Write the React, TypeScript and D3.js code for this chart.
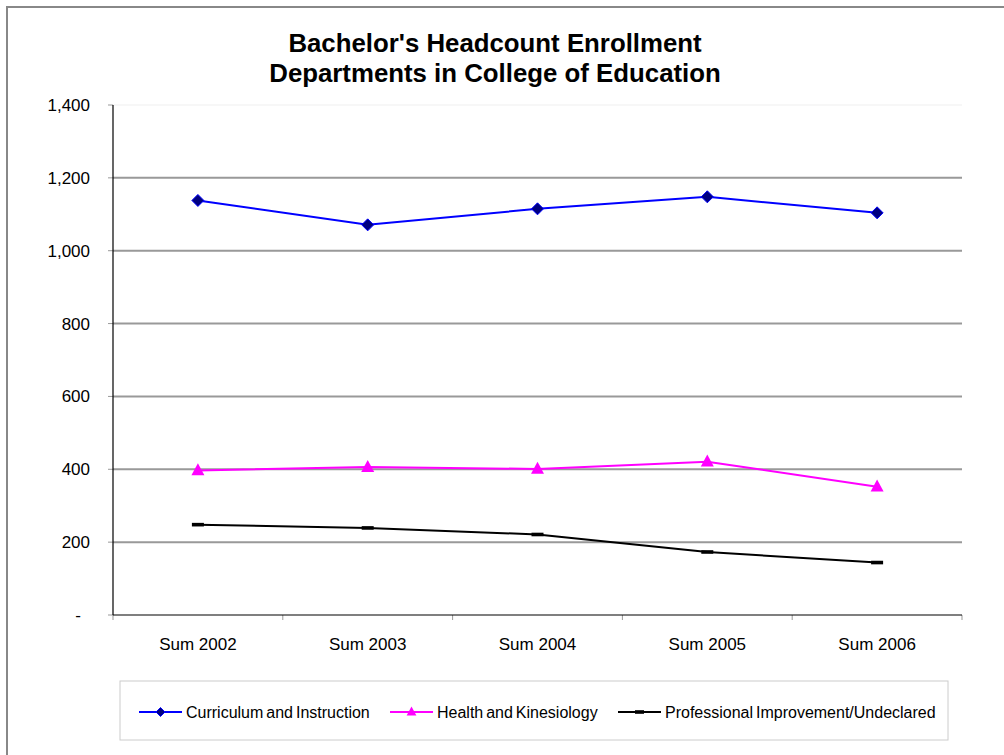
import React from "react";
import * as d3 from "d3";

const categories = ["Sum 2002", "Sum 2003", "Sum 2004", "Sum 2005", "Sum 2006"];
const curriculum = [1138, 1071, 1115, 1148, 1104];
const health = [397, 406, 401, 421, 352];
const professional = [248, 239, 221, 173, 144];
const yTicks = [0, 200, 400, 600, 800, 1000, 1200, 1400];
const seriesNames = ["Curriculum and Instruction", "Health and Kinesiology", "Professional Improvement/Undeclared"];

const W = 1004, H = 755;
const L = 113, R = 962, T = 105, B = 615;
const FONT = "Arial, 'Liberation Sans', sans-serif";

function Marker({ kind, x, y, s = 1 }: { kind: string; x: number; y: number; s?: number }) {
  if (kind === "diamond") {
    const r = 6 * s;
    return <path d={`M${x},${y - r}L${x + r},${y}L${x},${y + r}L${x - r},${y}Z`} fill="#000080" stroke="#0000ff" strokeWidth={1} />;
  }
  if (kind === "triangle") {
    const w = 6.5 * s, h = 12 * s;
    return <path d={`M${x},${y - h * 0.6}L${x + w},${y + h * 0.4}L${x - w},${y + h * 0.4}Z`} fill="#ff00ff" />;
  }
  return <rect x={x - 6 * s} y={y - 1.8} width={12 * s} height={3.6} fill="#000" />;
}

export default function App() {
  const x = d3.scaleBand<string>().domain(categories).range([L, R]);
  const y = d3.scaleLinear().domain([0, 1400]).range([B, T]);
  const cx = (c: string) => (x(c) as number) + x.bandwidth() / 2;
  const line = d3.line<number>().x((_, i) => cx(categories[i])).y((v) => y(v));

  const series = [
    { name: seriesNames[0], values: curriculum, color: "#0000ff", kind: "diamond" },
    { name: seriesNames[1], values: health, color: "#ff00ff", kind: "triangle" },
    { name: seriesNames[2], values: professional, color: "#000000", kind: "dash" },
  ];

  const boundaries = [...categories.map((c) => x(c) as number), R];
  const legendItems = [
    { lx: 139, tx: 186 },
    { lx: 390, tx: 437 },
    { lx: 618, tx: 665 },
  ];
  const ly = 712;

  return (
    <svg width={W} height={H} style={{ position: "absolute", left: 0, top: 0, background: "#fff" }} fontFamily={FONT}>
      <rect x={0} y={0} width={W} height={H} fill="#fff" />
      <rect x={7} y={7} width={W + 20} height={H + 20} fill="none" stroke="#888" strokeWidth={2} />
      <text x={495} y={52} textAnchor="middle" fontSize={25.8} fontWeight="bold">Bachelor's Headcount Enrollment</text>
      <text x={495} y={82} textAnchor="middle" fontSize={25.8} fontWeight="bold">Departments in College of Education</text>

      {yTicks.map((t) => (
        <g key={t}>
          {t > 0 && (
            <line x1={L} x2={R} y1={y(t)} y2={y(t)} stroke={t === 1400 ? "#f4f4f4" : "#999"} strokeWidth={t === 1400 ? 1.5 : 2} />
          )}
          <line x1={L - 5} x2={L} y1={y(t)} y2={y(t)} stroke="#999" strokeWidth={1} />
          <text x={t === 0 ? 81 : 90} y={y(t) + 6} textAnchor="end" fontSize={17}>{t === 0 ? "-" : d3.format(",")(t)}</text>
        </g>
      ))}
      {boundaries.map((b, i) => (
        <line key={i} x1={b} x2={b} y1={B} y2={B + 5} stroke="#999" strokeWidth={1} />
      ))}
      <line x1={L} x2={L} y1={T} y2={B} stroke="#000" strokeWidth={1.2} />
      <line x1={L} x2={R} y1={B} y2={B} stroke="#000" strokeWidth={1.2} />
      {categories.map((c) => (
        <text key={c} x={cx(c)} y={650} textAnchor="middle" fontSize={17}>{c}</text>
      ))}

      {series.map((s) => (
        <g key={s.name}>
          <path d={line(s.values) || ""} fill="none" stroke={s.color} strokeWidth={2} />
          {s.values.map((v, i) => (
            <Marker key={i} kind={s.kind} x={cx(categories[i])} y={y(v)} />
          ))}
        </g>
      ))}

      <rect x={120} y={681} width={828} height={59} fill="#fff" stroke="#ccc" strokeWidth={1} />
      {series.map((s, i) => (
        <g key={s.name}>
          <line x1={legendItems[i].lx} x2={legendItems[i].lx + 43} y1={ly} y2={ly} stroke={s.color} strokeWidth={2} />
          <Marker kind={s.kind} x={legendItems[i].lx + 21.5} y={ly} s={0.75} />
          <text x={legendItems[i].tx} y={ly + 5.5} fontSize={16} wordSpacing={-1.5}>{s.name}</text>
        </g>
      ))}
    </svg>
  );
}
